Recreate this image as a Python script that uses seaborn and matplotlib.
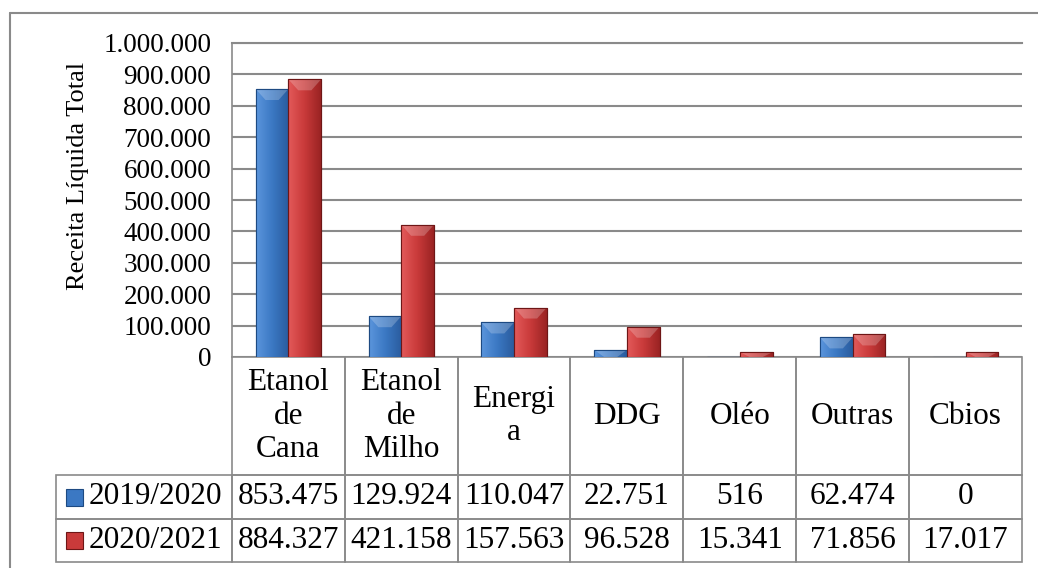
import numpy as np
import pandas as pd
import matplotlib
matplotlib.use("Agg")
import matplotlib.pyplot as plt
import seaborn as sns
from matplotlib.patches import Rectangle, Polygon
from matplotlib.lines import Line2D
from matplotlib.colors import LinearSegmentedColormap

categories = ["Etanol de Cana", "Etanol de Milho", "Energia", "DDG", "Oléo", "Outras", "Cbios"]
header_labels = ["Etanol\nde\nCana", "Etanol\nde\nMilho", "Energi\na", "DDG", "Oléo", "Outras", "Cbios"]
seasons = ["2019/2020", "2020/2021"]
values_2019 = [853475, 129924, 110047, 22751, 516, 62474, 0]
values_2020 = [884327, 421158, 157563, 96528, 15341, 71856, 17017]
y_ticks = list(range(0, 1000001, 100000))


def br_fmt(v):
    # brazilian thousands separator
    return f"{v:,}".replace(",", ".")


df = pd.DataFrame({
    "categoria": categories * 2,
    "safra": [seasons[0]] * len(categories) + [seasons[1]] * len(categories),
    "valor": values_2019 + values_2020,
})

sns.set_theme(style="white")
plt.rcParams["font.family"] = ["Liberation Serif", "DejaVu Serif"]

W, H = 1038, 568
fig = plt.figure(figsize=(W / 100, H / 100), dpi=100)
# plot area in pixels: x 232..1022, y 43..357
ax = fig.add_axes([232 / W, 1 - 357 / H, (1022 - 232) / W, (357 - 43) / H])

blue, red = "#3b78c3", "#c93a3a"
edge = {seasons[0]: "#1d4a82", seasons[1]: "#6e1616"}
sns.barplot(data=df, x="categoria", y="valor", hue="safra", order=categories,
            hue_order=seasons, palette=[blue, red], width=0.58, dodge=True,
            saturation=1, legend=False, ax=ax)

# cheap "3D bevel" look: horizontal gradient + light chevron on top
grads = {
    seasons[0]: LinearSegmentedColormap.from_list("b", ["#5b95dc", "#3b78c3", "#2a5c9e"]),
    seasons[1]: LinearSegmentedColormap.from_list("r", ["#e35a5a", "#c93a3a", "#9a2323"]),
}
ppy = 314 / 1e6  # pixels per data unit
for i, container in enumerate(ax.containers):
    s = seasons[i]
    for p in container.patches:
        x, y, w, h = p.get_x(), p.get_y(), p.get_width(), p.get_height()
        p.set_edgecolor(edge[s])
        p.set_linewidth(0.8)
        if h <= 0:
            continue
        g = np.linspace(0, 1, 64).reshape(1, -1)
        im = ax.imshow(g, cmap=grads[s], extent=[x, x + w, y, y + h],
                       aspect="auto", zorder=p.get_zorder() + 0.1, origin="lower")
        im.set_clip_path(p)
        d = min(11 / ppy, h)
        tri = Polygon([[x, y + h], [x + w, y + h], [x + w * 0.7, y + h - d], [x + w * 0.3, y + h - d]],
                      closed=True, facecolor="white", alpha=0.22, lw=0,
                      zorder=p.get_zorder() + 0.2)
        ax.add_patch(tri)
        tri.set_clip_path(p)
        ax.add_patch(Rectangle((x, y), w, h, fill=False, edgecolor=edge[s], lw=0.8,
                               zorder=p.get_zorder() + 0.3))

ax.set_xlim(-0.5, len(categories) - 0.5)
ax.set_ylim(0, 1000000)
ax.set_yticks(y_ticks)
ax.set_yticklabels([br_fmt(v) for v in y_ticks], fontsize=19.5)
ax.tick_params(axis="y", length=0, pad=15, colors="black")
ax.set_xticks([])
ax.set_xlabel("")
ax.set_ylabel("Receita Líquida Total", fontsize=19, color="black")
ax.yaxis.set_label_coords((89 - 232) / 790, 1 - (176 - 43) / 314)

ax.yaxis.grid(True, color="#8a8a8a", lw=1.5)
ax.set_axisbelow(True)
for side in ["right", "bottom"]:
    ax.spines[side].set_visible(False)
ax.spines["top"].set_color("#8a8a8a")
ax.spines["top"].set_linewidth(1.5)
ax.spines["left"].set_color("#8a8a8a")
ax.spines["left"].set_linewidth(1.2)

# data table under the plot
cell_text = [[""] + header_labels,
             [seasons[0]] + [br_fmt(v) for v in values_2019],
             [seasons[1]] + [br_fmt(v) for v in values_2020]]
col_w = [176] + [113] * len(categories)
tbl = ax.table(cellText=cell_text, colWidths=[c / sum(col_w) for c in col_w],
               cellLoc="center",
               bbox=[(56 - 232) / 790, -(562 - 357) / 314, (1022 - 56) / 790, (562 - 357) / 314])
tbl.auto_set_font_size(False)
tbl.set_fontsize(22.5)
row_h = [118, 44, 43]
for (r, c), cell in tbl.get_celld().items():
    cell.set_height(row_h[r] / 205)
    cell.set_edgecolor("#8a8a8a")
    cell.set_linewidth(1.2)
    cell.set_facecolor("none")
    cell.get_text().set_color("black")
    if r == 0 and c == 0:
        cell.visible_edges = "open"
    elif c == 0:
        cell.PAD = 10 / 176
        cell.get_text().set_horizontalalignment("right")
        cell._loc = "right"

# little legend keys inside the table row labels
for i, col in enumerate([blue, red]):
    yc = -((497 if i == 0 else 540.5) - 357) / 314
    key = Rectangle(((66 - 232) / 790, yc - 8.5 / 314), 17 / 790, 17 / 314,
                    transform=ax.transAxes, facecolor=col, edgecolor=list(edge.values())[i],
                    lw=0.8, clip_on=False, zorder=5)
    ax.add_patch(key)

# outer chart frame
fig.add_artist(Line2D([10 / W, 1], [1 - 13 / H] * 2, transform=fig.transFigure, color="#8a8a8a", lw=1.5))
fig.add_artist(Line2D([10 / W] * 2, [1 - 13 / H, 0], transform=fig.transFigure, color="#8a8a8a", lw=1.5))

fig.savefig("out.png", dpi=100, facecolor="white")
